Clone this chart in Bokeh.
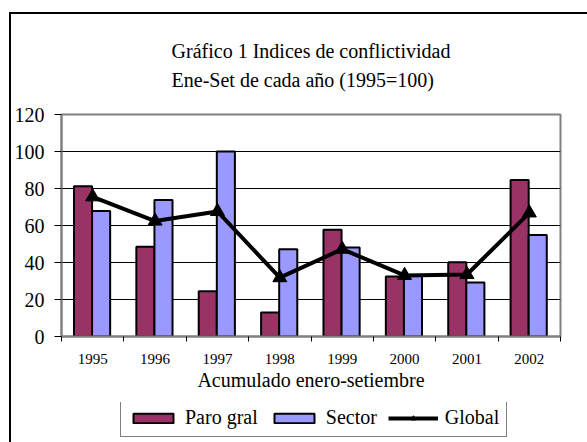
from bokeh.plotting import figure
from bokeh.layouts import column
from bokeh.models import (Range1d, FactorRange, FixedTicker, LinearAxis, CategoricalAxis,
                          Title, Legend, LegendItem, ColumnDataSource)
from bokeh.transform import dodge
from bokeh.embed import file_html
from bokeh.resources import INLINE

years = ["1995", "1996", "1997", "1998", "1999", "2000", "2001", "2002"]
paro_gral = [81.2, 48.5, 24.5, 13.0, 57.7, 32.4, 40.2, 84.6]
sector = [67.9, 73.8, 100.0, 47.2, 48.1, 32.8, 29.2, 54.9]
global_idx = [75.5, 62.4, 67.6, 31.8, 47.2, 33.0, 33.5, 66.8]
y_ticks = [0, 20, 40, 60, 80, 100, 120]

FONT = "Liberation Serif"
PARO_COLOR = "#993366"
SECTOR_COLOR = "#9999FF"

src = ColumnDataSource(dict(year=years, paro=paro_gral, sector=sector, glob=global_idx))


def draw_series(fig):
    rp = fig.vbar(x=dodge("year", -0.155, range=fig.x_range), top="paro", width=0.29, source=src,
                  fill_color=PARO_COLOR, line_color="black", line_width=2)
    rs = fig.vbar(x=dodge("year", 0.135, range=fig.x_range), top="sector", width=0.29, source=src,
                  fill_color=SECTOR_COLOR, line_color="black", line_width=2)
    rl = fig.line(x="year", y="glob", source=src, line_width=4, line_color="black")
    rm = fig.scatter(x="year", y="glob", source=src, marker="triangle", size=14,
                     fill_color="black", line_color="black")
    return rp, rs, rl, rm


x_range = FactorRange(*years)

p = figure(width=578, height=388,
           x_range=x_range, y_range=Range1d(0, 120),
           output_backend="svg", toolbar_location=None, title=None,
           x_axis_location=None,
           min_border_left=50, min_border_right=29, min_border_top=92, min_border_bottom=66,
           background_fill_color="white", border_fill_color="white")
p.outline_line_color = "#808080"
p.outline_line_width = 2

# y axis
p.yaxis.ticker = FixedTicker(ticks=y_ticks)
p.yaxis.major_tick_out = 7
p.yaxis.major_tick_in = 0
p.yaxis.minor_tick_line_color = None
p.yaxis.axis_line_color = "#808080"
p.yaxis.axis_line_width = 2
p.yaxis.major_tick_line_color = "black"
p.yaxis.major_label_text_font = FONT
p.yaxis.major_label_text_font_size = "20px"
p.yaxis.major_label_text_color = "black"
p.yaxis.major_label_standoff = 10
p.ygrid.ticker = FixedTicker(ticks=y_ticks)
p.ygrid.grid_line_color = "black"
p.ygrid.grid_line_width = 1
p.xgrid.visible = False

# x axes: tick marks on category edges (synthetic coordinates) + category labels
edge_ticks = list(range(len(years) + 1))
edge_axis = LinearAxis(ticker=FixedTicker(ticks=edge_ticks),
                       major_label_overrides={t: "" for t in edge_ticks},
                       major_tick_out=5, major_tick_in=0, minor_tick_line_color=None,
                       major_label_standoff=0,
                       axis_line_color="#808080", axis_line_width=2,
                       major_tick_line_color="black")
p.add_layout(edge_axis, "below")
cat_axis = CategoricalAxis(axis_line_color=None, major_tick_line_color=None,
                           major_tick_out=0, major_tick_in=0, major_label_standoff=12,
                           major_label_text_font=FONT, major_label_text_font_size="15px",
                           major_label_text_color="black",
                           axis_label="Acumulado enero-setiembre",
                           axis_label_text_font=FONT, axis_label_text_font_size="20px",
                           axis_label_text_color="black",
                           axis_label_text_font_style="normal", axis_label_standoff=2)
p.add_layout(cat_axis, "below")

draw_series(p)

p.add_layout(Title(text="Gráfico 1 Indices de conflictividad\nEne-Set de cada año (1995=100)",
                   align="center", offset=-9, text_line_height=1.3,
                   text_font=FONT, text_font_size="20px", text_font_style="normal",
                   text_color="black", standoff=47), "above")

# legend strip: same series drawn out of view, legend only
pl = figure(width=578, height=42, x_range=x_range, y_range=Range1d(1000, 1001),
            output_backend="svg", toolbar_location=None, title=None,
            x_axis_location=None, y_axis_location=None,
            min_border_left=0, min_border_right=0, min_border_top=0, min_border_bottom=0,
            background_fill_color="white", border_fill_color="white")
pl.outline_line_color = None
pl.xgrid.visible = False
pl.ygrid.visible = False
lp, ls, ll, lm = draw_series(pl)

legend = Legend(items=[LegendItem(label="Paro gral", renderers=[lp]),
                       LegendItem(label="Sector", renderers=[ls]),
                       LegendItem(label="Global", renderers=[ll, lm])],
                orientation="horizontal", location=(59, 7),
                glyph_width=50, glyph_height=12, label_standoff=7, spacing=11,
                padding=7, margin=0, label_height=20,
                label_text_font=FONT, label_text_font_size="20px", label_text_color="black",
                border_line_color="black", border_line_width=1,
                background_fill_color="white")
pl.add_layout(legend, "center")

layout = column(p, pl, spacing=0, margin=(12, 0, 0, 9),
                styles={"border-left": "2px solid black", "border-top": "2px solid black"})

open("out.html", "w").write(file_html(layout, INLINE))
